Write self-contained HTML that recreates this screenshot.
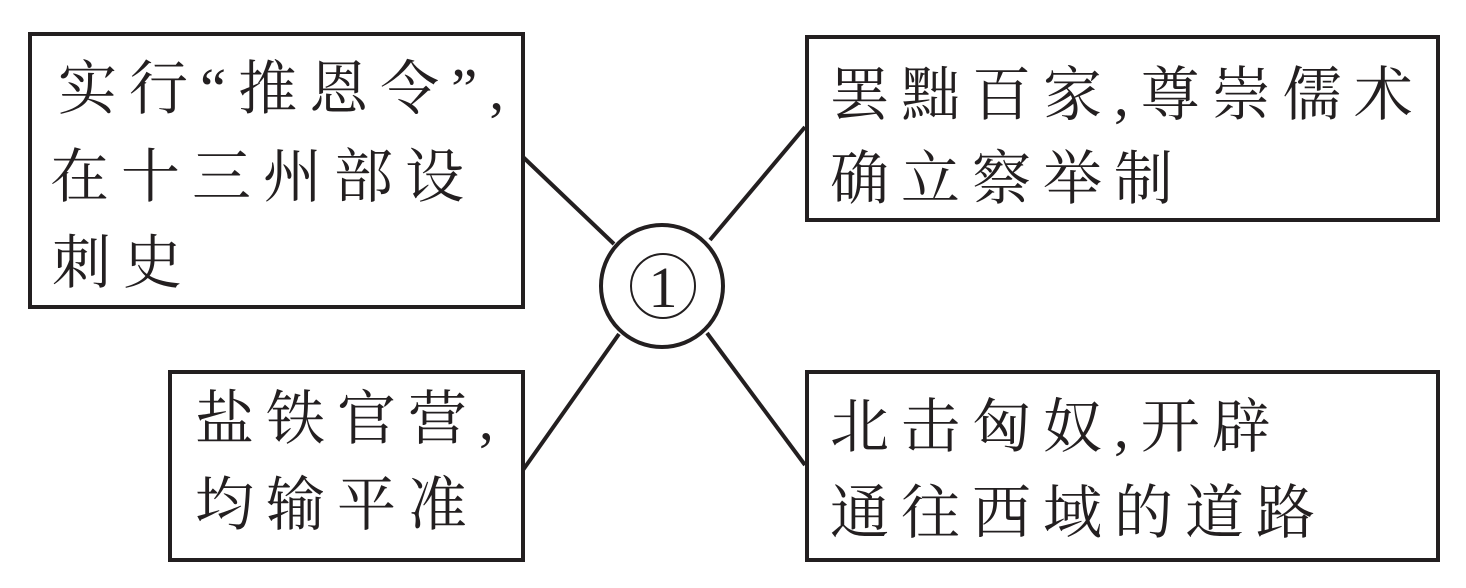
<!DOCTYPE html>
<html><head><meta charset="utf-8"><style>
body{margin:0;width:1466px;height:588px;background:#fff;position:relative;overflow:hidden;font-family:"Liberation Serif","Noto Serif CJK SC",serif;color:#231f20}
.b{position:absolute;border:4px solid #231f20;box-sizing:border-box}
.t{position:absolute;font-size:59px;line-height:59px;white-space:nowrap;letter-spacing:12px}
svg{position:absolute;left:0;top:0}
</style></head><body>
<svg width="1466" height="588">
<g stroke="#231f20" stroke-width="4" fill="none">
<line x1="523" y1="157" x2="614" y2="244"/>
<line x1="523" y1="470" x2="619" y2="334"/>
<line x1="710" y1="240" x2="805" y2="127"/>
<line x1="707" y1="333" x2="805" y2="465"/>
<circle cx="662" cy="286" r="61"/>
</g>
<circle cx="663" cy="286" r="32" stroke="#231f20" stroke-width="2" fill="none"/>
<text x="663" y="307" font-size="58" text-anchor="middle" font-family="Liberation Serif,serif" fill="#231f20">1</text>
</svg>
<div class="b" style="left:28px;top:32px;width:497px;height:277px"></div>
<div class="b" style="left:805px;top:35px;width:635px;height:187px"></div>
<div class="b" style="left:168px;top:370px;width:357px;height:192px"></div>
<div class="b" style="left:805px;top:370px;width:635px;height:192px"></div>
<div class="t" style="left:58px;top:60px">实行“推恩令”,</div>
<div class="t" style="left:50px;top:148px">在十三州部设</div>
<div class="t" style="left:52px;top:234px">刺史</div>
<div class="t" style="left:830px;top:66px">罢黜百家,尊崇儒术</div>
<div class="t" style="left:830px;top:150px">确立察举制</div>
<div class="t" style="left:195px;top:390px">盐铁官营,</div>
<div class="t" style="left:195px;top:476px">均输平准</div>
<div class="t" style="left:830px;top:398px">北击匈奴,开辟</div>
<div class="t" style="left:830px;top:484px">通往西域的道路</div>
</body></html>
